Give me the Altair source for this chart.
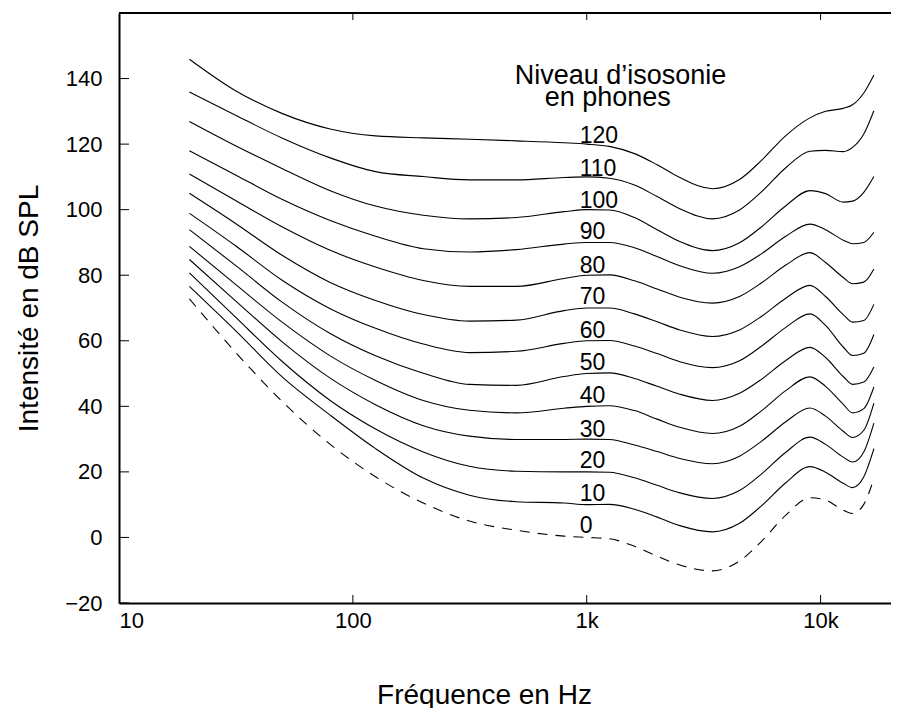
import altair as alt
import pandas as pd

# Frequencies (Hz) at which the contours were read
freqs = [20, 31.5, 50, 80, 125, 200, 315, 500, 800, 1000, 1250, 1600, 2000,
         2500, 3450, 4500, 5600, 7100, 9000, 10500, 12500, 13700, 15300, 16900]

# Loudness levels (phons)
levels = [0, 10, 20, 30, 40, 50, 60, 70, 80, 90, 100, 110, 120]

# Sound pressure level (dB SPL) for each contour
curve_0 = [72.8, 56.5, 41.4, 28.4, 18.5, 10.5, 5.0, 2.2, 0.4, 0.0, -0.4, -2.7, -5.7, -8.4, -10.2, -7.2, -1.1, 6.8, 12.1, 11.4, 8.3, 7.3, 10.1, 18.0]
curve_10 = [76.6, 63.1, 48.9, 37.3, 27.1, 18.1, 12.9, 10.9, 10.5, 10.0, 10.1, 8.6, 6.2, 3.6, 1.7, 4.3, 9.7, 16.7, 21.6, 19.9, 16.5, 15.2, 18.5, 27.1]
curve_20 = [80.7, 67.2, 53.6, 41.8, 33.1, 26.1, 21.7, 20.2, 20.0, 20.0, 19.9, 18.2, 15.9, 13.6, 11.9, 14.3, 19.4, 26.0, 30.6, 28.4, 24.5, 23.0, 26.1, 34.9]
curve_30 = [84.8, 72.2, 59.6, 48.6, 40.5, 34.1, 30.9, 29.9, 29.9, 30.0, 29.9, 28.2, 26.2, 24.1, 22.5, 24.8, 29.4, 35.3, 39.5, 37.0, 32.4, 30.5, 32.7, 41.0]
curve_40 = [88.8, 77.2, 65.6, 55.4, 47.9, 41.8, 38.8, 38.0, 39.4, 40.0, 40.2, 38.7, 36.1, 33.6, 31.7, 33.9, 38.7, 44.8, 49.0, 46.1, 40.6, 38.0, 39.3, 45.9]
curve_50 = [93.9, 83.0, 71.7, 62.2, 55.4, 50.1, 46.7, 46.4, 49.1, 50.0, 50.2, 48.5, 46.1, 43.7, 41.8, 44.0, 48.3, 54.0, 58.0, 54.9, 49.1, 46.7, 47.4, 52.0]
curve_60 = [98.9, 89.0, 78.4, 69.8, 63.8, 59.0, 56.4, 56.8, 59.2, 60.0, 60.1, 58.4, 56.1, 53.6, 51.8, 53.9, 58.4, 64.1, 68.2, 64.7, 58.1, 55.5, 56.2, 61.9]
curve_70 = [105.0, 95.8, 86.0, 77.8, 72.3, 68.0, 66.0, 66.3, 69.2, 70.0, 70.0, 68.2, 65.8, 63.3, 61.3, 63.3, 67.5, 73.0, 76.9, 73.5, 68.0, 65.7, 66.2, 71.1]
curve_80 = [110.9, 102.8, 94.7, 87.6, 82.5, 78.4, 76.6, 76.6, 79.0, 80.0, 80.1, 78.3, 75.8, 73.3, 71.5, 73.5, 77.7, 83.1, 86.9, 83.9, 79.3, 77.4, 77.9, 81.9]
curve_90 = [118.0, 110.6, 103.1, 96.7, 91.9, 88.1, 87.1, 87.8, 89.5, 90.0, 90.0, 88.4, 85.7, 82.9, 80.6, 82.6, 86.6, 91.9, 95.6, 93.9, 90.7, 89.6, 90.0, 93.1]
curve_100 = [126.9, 119.5, 112.5, 105.8, 101.1, 98.3, 97.2, 97.6, 99.4, 100.0, 99.9, 97.6, 93.9, 90.3, 87.5, 89.9, 94.8, 101.2, 105.8, 104.9, 102.3, 102.6, 105.3, 110.1]
curve_110 = [135.9, 128.8, 121.8, 115.8, 111.6, 110.1, 109.1, 109.1, 109.8, 110.0, 109.6, 107.5, 104.0, 100.3, 97.2, 99.9, 105.5, 112.8, 117.8, 118.1, 117.7, 119.0, 123.1, 130.2]
curve_120 = [145.9, 136.3, 129.3, 124.6, 122.5, 121.9, 121.5, 121.0, 120.4, 120.0, 119.3, 117.1, 113.7, 109.8, 106.4, 109.2, 115.1, 122.6, 128.0, 130.0, 130.9, 132.0, 135.6, 141.1]

curves = [curve_0, curve_10, curve_20, curve_30, curve_40, curve_50, curve_60,
          curve_70, curve_80, curve_90, curve_100, curve_110, curve_120]

# Contour labels (placed near 1 kHz, just above each curve)
label_texts = [str(v) for v in levels]
label_freq = 933
label_db = [1.3, 11.1, 21.1, 30.6, 40.9, 51.0, 61.0, 71.1, 80.8, 91.2, 100.6, 110.4, 120.4]

# Legend heading
heading_texts = ["Niveau d\u2019isosonie", "en phones"]
heading_freq = [492, 661]
heading_db = [138.3, 131.7]

# Axis ticks
x_tick_values = [10, 100, 1000, 10000]
x_inner_ticks = [100, 1000, 10000]
y_tick_values = [-20, 0, 20, 40, 60, 80, 100, 120, 140]

rows = []
for lvl, vals in zip(levels, curves):
    for f, v in zip(freqs, vals):
        rows.append({"freq": f, "db": v, "level": lvl})
df = pd.DataFrame(rows)

labels_df = pd.DataFrame({"freq": [label_freq] * len(levels), "db": label_db, "label": label_texts})
heading_df = pd.DataFrame({"freq": heading_freq, "db": heading_db, "label": heading_texts})
xt_df = pd.DataFrame({"freq": x_inner_ticks})
yt_df = pd.DataFrame({"db": y_tick_values})

FONT = "Liberation Sans"
W, H = 772, 590

x = alt.X(
    "freq:Q",
    scale=alt.Scale(type="log", domain=[10, 20000], nice=False),
    axis=alt.Axis(
        values=x_tick_values,
        labelExpr="datum.value >= 1000 ? format(datum.value / 1000, 'd') + 'k' : format(datum.value, 'd')",
        ticks=False, tickSize=0, grid=False,
        domainColor="black", domainWidth=2,
        labelFont=FONT, labelFontSize=22, labelColor="black", labelPadding=7,
        labelFlush=True, labelOverlap=False,
        titleFont=FONT, titleFontSize=28, titleFontWeight="normal", titleColor="black",
        titleX=365, titleY=100, titleBaseline="alphabetic", titleAlign="center",
    ),
    title="Fréquence en Hz",
)
y = alt.Y(
    "db:Q",
    scale=alt.Scale(domain=[-20, 160], nice=False),
    axis=alt.Axis(
        values=y_tick_values,
        ticks=False, tickSize=0, grid=False,
        domainColor="black", domainWidth=2,
        labelFont=FONT, labelFontSize=22, labelColor="black", labelPadding=17,
        labelOverlap=False,
        titleFont=FONT, titleFontSize=28, titleFontWeight="normal", titleColor="black",
        titleX=-82, titleBaseline="alphabetic", titleAlign="center",
    ),
    title="Intensité en dB SPL",
)

solid = alt.Chart(df).transform_filter("datum.level > 0").mark_line(
    color="black", strokeWidth=1.1, interpolate="monotone"
).encode(x=x, y=y, detail="level:N")

dashed = alt.Chart(df).transform_filter("datum.level == 0").mark_line(
    color="black", strokeWidth=1.1, strokeDash=[10, 8], interpolate="monotone"
).encode(x=x, y=y)

labels = alt.Chart(labels_df).mark_text(
    align="left", baseline="alphabetic", font=FONT, fontSize=23, color="black"
).encode(x=x, y=y, text="label:N")

heading = alt.Chart(heading_df).mark_text(
    align="left", baseline="alphabetic", font=FONT, fontSize=27, color="black"
).encode(x=x, y=y, text="label:N")

top_line = alt.Chart(yt_df).mark_rule(color="black", strokeWidth=2).encode(
    x=alt.value(0), x2=alt.value(W), y=alt.value(0)
)
top_ticks = alt.Chart(xt_df).mark_rule(color="black", strokeWidth=1).encode(
    x=x, y=alt.value(0), y2=alt.value(7)
)
bottom_ticks = alt.Chart(xt_df).mark_rule(color="black", strokeWidth=1).encode(
    x=x, y=alt.value(H - 8), y2=alt.value(H)
)
left_ticks = alt.Chart(yt_df).mark_rule(color="black", strokeWidth=1).encode(
    y=y, x=alt.value(0), x2=alt.value(10)
)

chart = alt.layer(
    solid, dashed, labels, heading, top_line, top_ticks, bottom_ticks, left_ticks
).properties(
    width=W, height=H,
    autosize=alt.AutoSizeParams(type="none"),
    padding={"left": 111, "top": 5, "right": 0, "bottom": 105},
).configure_view(stroke=None).configure(background="white")

chart.save("out.html", embed_options={"renderer": "svg", "actions": False})
